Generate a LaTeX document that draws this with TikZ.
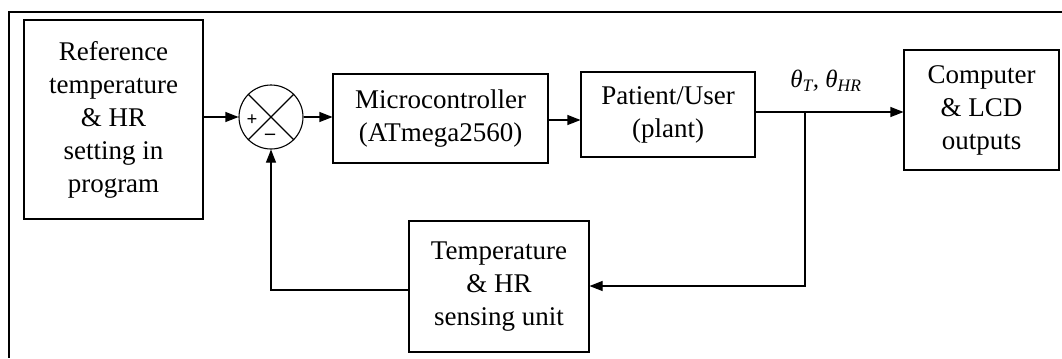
\documentclass[tikz,border=0pt]{standalone}
\usepackage{fontspec}
\setmainfont{Liberation Serif}
\usetikzlibrary{arrows.meta,calc}
\begin{document}
\begin{tikzpicture}[x=1bp,y=-1bp,
  blk/.style={draw, line width=1.1pt, align=center, inner sep=0pt,
    font=\fontsize{27bp}{33bp}\selectfont},
  conn/.style={line width=1.1pt},
  arr/.style={conn, -{Triangle[length=13bp,width=10bp]}}]
\useasboundingbox (0,0) rectangle (1062,358);
\fill[white] (0,0) rectangle (1062,358);
\coordinate (ftop) at (1062,12);
\coordinate (fcorner) at (9,12);
\coordinate (fbot) at (9,358);
\draw[line width=1.2pt] (ftop) -- (fcorner) -- (fbot);
\node[blk, minimum width=179bp, minimum height=199bp] (ref) at (113.5,119.5)
  {Reference\\temperature\\\& HR\\setting in\\program};
\node[draw, circle, line width=1.1pt, minimum size=64bp, inner sep=0pt] (sum) at (271,117) {};
\draw[conn] (sum.north west) -- (sum.south east);
\draw[conn] (sum.north east) -- (sum.south west);
\node[font=\fontsize{19bp}{19bp}\selectfont\bfseries, inner sep=0pt] (plus) at (252,120) {+};
\node[font=\fontsize{20bp}{20bp}\selectfont\bfseries, inner sep=0pt] (minus) at (270,137) {\textendash};
\node[blk, minimum width=215bp, minimum height=89bp] (micro) at (440.5,118.5)
  {Microcontroller\\(ATmega2560)};
\node[blk, minimum width=174bp, minimum height=85bp] (pat) at (668,114.5)
  {Patient/User\\(plant)};
\node[blk, minimum width=155bp, minimum height=120bp] (comp) at (981.5,110)
  {Computer\\\& LCD\\outputs};
\node[blk, minimum width=180bp, minimum height=131bp] (sens) at (499,286.5)
  {Temperature\\\& HR\\sensing unit};
\node[font=\fontsize{25bp}{25bp}\selectfont\itshape, inner sep=0pt] (theta) at (826,81)
  {θ\textsubscript{T}, θ\textsubscript{HR}};
\coordinate (branch) at (805,112);
\coordinate (fbturn) at (805,286);
\coordinate (sumturn) at (271,290);
\draw[arr] (ref.east |- sum.west) -- (sum.west);
\draw[arr] (sum.east) -- (micro.west |- sum.east);
\draw[arr] ($(micro.east)+(0,1.5)$) -- ($(pat.west)+(0,5.5)$);
\draw[arr] (pat.east |- branch) -- (branch) -- (comp.west |- branch);
\draw[arr] (branch) -- (fbturn) -- (sens.east |- fbturn);
\draw[arr] (sens.west |- sumturn) -- (sumturn) -- (sum.south);
\end{tikzpicture}
\end{document}
